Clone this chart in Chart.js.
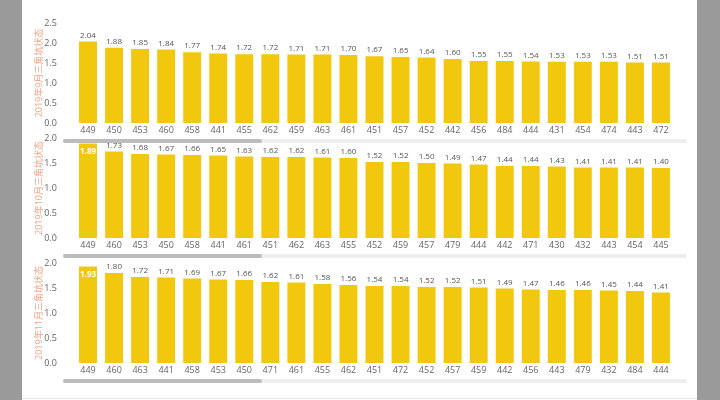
<!DOCTYPE html>
<html>
<head>
<meta charset="utf-8">
<script src="https://cdn.jsdelivr.net/npm/chart.js@4.4.0/dist/chart.umd.min.js"></script>
<style>
  html, body { margin: 0; padding: 0; background: #fff; }
  #page { position: relative; width: 720px; height: 400px; background: #fff; overflow: hidden; }
  .side { position: absolute; top: 0; height: 400px; background: #9a9a9a; }
  .panel { position: absolute; left: 0; width: 720px; }
  .track { position: absolute; left: 63px; width: 624px; height: 4px; background: #eeeeee; border-radius: 2px; }
  .thumb { position: absolute; left: 0; top: 0; width: 199px; height: 4px; background: #bcbcbc; border-radius: 2px; }
  #bottomline { position: absolute; left: 22px; width: 675px; top: 398px; height: 1px; background: #e4e4e4; }
</style>
</head>
<body>
<div id="page">
  <div class="side" style="left:0;width:22px"></div>
  <div class="side" style="left:697px;width:23px"></div>
  <div class="panel" style="top:0;height:140px"><canvas id="sep"></canvas></div>
  <div class="panel" style="top:130px;height:125px"><canvas id="oct"></canvas></div>
  <div class="panel" style="top:255px;height:125px"><canvas id="nov"></canvas></div>
  <div class="track" style="top:139px"><div class="thumb"></div></div>
  <div class="track" style="top:254px"><div class="thumb"></div></div>
  <div class="track" style="top:379px"><div class="thumb"></div></div>
  <div id="bottomline"></div>
</div>
<script>
// 2019年9月
const sepLabels = ['449','450','453','460','458','441','455','462','459','463','461','451','457','452','442','456','484','444','431','454','474','443','472']
const sepValues = [2.04,1.88,1.85,1.84,1.77,1.74,1.72,1.72,1.71,1.71,1.70,1.67,1.65,1.64,1.60,1.55,1.55,1.54,1.53,1.53,1.53,1.51,1.51]
// 2019年10月
const octLabels = ['449','460','453','450','458','441','461','451','462','463','455','452','459','457','479','444','442','471','430','432','443','454','445']
const octValues = [1.89,1.73,1.68,1.67,1.66,1.65,1.63,1.62,1.62,1.61,1.60,1.52,1.52,1.50,1.49,1.47,1.44,1.44,1.43,1.41,1.41,1.41,1.40]
// 2019年11月
const novLabels = ['449','460','463','441','458','453','450','471','461','455','462','451','472','452','457','459','442','456','443','479','432','484','444']
const novValues = [1.93,1.80,1.72,1.71,1.69,1.67,1.66,1.62,1.61,1.58,1.56,1.54,1.54,1.52,1.52,1.51,1.49,1.47,1.46,1.46,1.45,1.44,1.41]

const sepTitle = '2019年9月三角坑状态'
const octTitle = '2019年10月三角坑状态'
const novTitle = '2019年11月三角坑状态'

const barColor = '#F2C80F'
const fontFamily = '"Segoe UI", "Open Sans", "Noto Sans CJK SC", sans-serif'

// data labels above the bars, or inside (white) when there is no room
const valueLabels = {
    id: 'valueLabels',
    afterDatasetsDraw(chart) {
        const ctx = chart.ctx
        const top = chart.chartArea.top
        const meta = chart.getDatasetMeta(0)
        ctx.save()
        ctx.textAlign = 'center'
        ctx.textBaseline = 'middle'
        meta.data.forEach((bar, i) => {
            const v = chart.data.datasets[0].data[i].toFixed(2)
            if (bar.y - top < 8) {
                ctx.font = 'bold 8px ' + fontFamily
                ctx.fillStyle = '#ffffff'
                ctx.fillText(v, bar.x, bar.y + 8)
            } else {
                ctx.font = '8px ' + fontFamily
                ctx.fillStyle = '#555555'
                ctx.fillText(v, bar.x, bar.y - 6)
            }
        })
        ctx.restore()
    }
}

const makeChart = (id, labels, values, title, yMax, padTop) => {
    return new Chart(document.getElementById(id), {
        type: 'bar',
        data: {
            labels: labels,
            datasets: [{
                data: values,
                backgroundColor: barColor,
                borderWidth: 0,
                barPercentage: 0.69,
                categoryPercentage: 1.0
            }]
        },
        options: {
            responsive: true,
            maintainAspectRatio: false,
            animation: false,
            layout: { padding: { left: 22, right: 46, top: padTop, bottom: 0 } },
            plugins: {
                legend: { display: false },
                tooltip: { enabled: false }
            },
            scales: {
                x: {
                    grid: { display: false, drawTicks: false },
                    border: { display: false },
                    ticks: { color: '#666', font: { family: fontFamily, size: 9 }, padding: 2, maxRotation: 0, autoSkip: false },
                    afterFit: (scale) => { scale.height = 17 }
                },
                y: {
                    min: 0,
                    max: yMax,
                    grid: { display: false, drawTicks: false },
                    border: { display: false },
                    ticks: {
                        stepSize: 0.5,
                        color: '#666',
                        font: { family: fontFamily, size: 9 },
                        padding: 18,
                        callback: (v) => Number(v).toFixed(1)
                    },
                    title: {
                        display: true,
                        text: title,
                        color: '#F3A384',
                        font: { family: fontFamily, size: 9 },
                        padding: { top: 12, bottom: 0 }
                    },
                    afterFit: (scale) => {
                        scale.width = 53
                        scale.paddingTop = 0
                        scale.paddingBottom = 0
                    }
                }
            }
        },
        plugins: [valueLabels]
    })
}

makeChart('sep', sepLabels, sepValues, sepTitle, 2.5, 23)
makeChart('oct', octLabels, octValues, octTitle, 2.0, 8)
makeChart('nov', novLabels, novValues, novTitle, 2.0, 8)
</script>
</body>
</html>
